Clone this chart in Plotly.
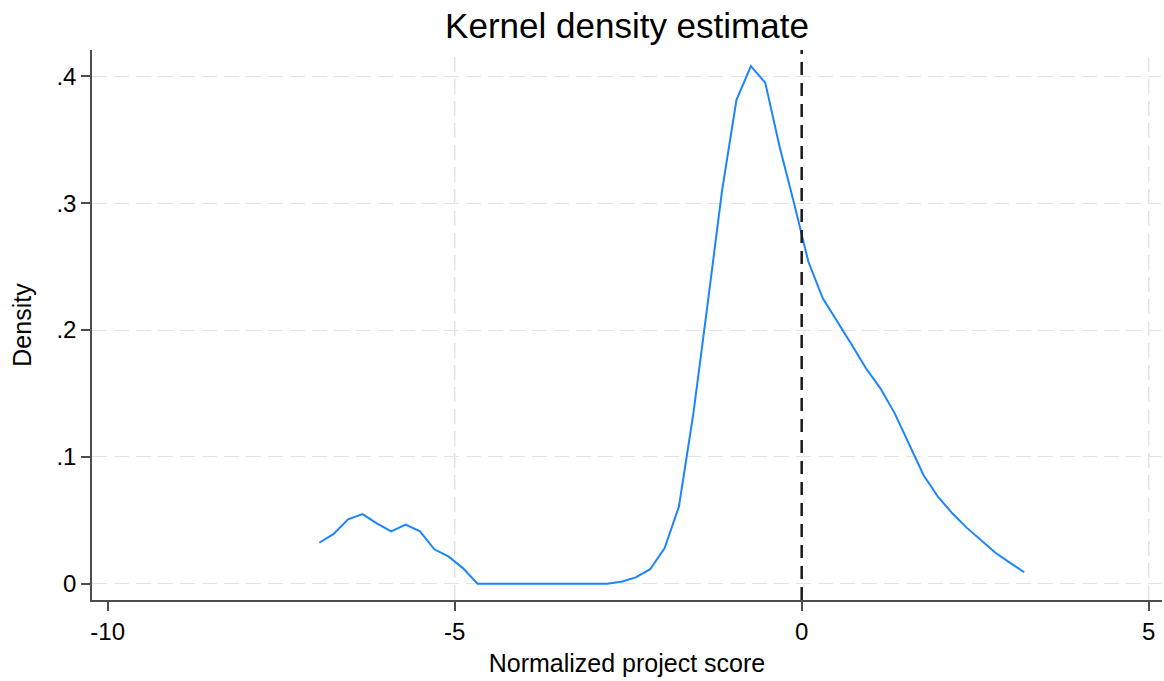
import plotly.graph_objects as go

# Kernel density estimate evaluation points
score = [-6.951, -6.744, -6.536, -6.329, -6.122, -5.915, -5.707, -5.500, -5.293, -5.086,
         -4.878, -4.671, -4.464, -4.256, -4.049, -3.842, -3.634, -3.427, -3.220, -3.013,
         -2.805, -2.598, -2.391, -2.183, -1.976, -1.769, -1.561, -1.354, -1.147, -0.940,
         -0.732, -0.525, -0.318, -0.110, 0.097, 0.304, 0.512, 0.719, 0.926, 1.134,
         1.341, 1.548, 1.755, 1.963, 2.170, 2.377, 2.585, 2.792, 2.999, 3.206]
density = [0.0323, 0.0392, 0.0508, 0.0549, 0.0476, 0.0413, 0.0465, 0.0413, 0.0271, 0.0213,
           0.0121, 0.0000, 0.0000, 0.0000, 0.0000, 0.0000, 0.0000, 0.0000, 0.0000, 0.0000,
           0.0000, 0.0016, 0.0050, 0.0114, 0.0279, 0.0607, 0.1340, 0.2210, 0.3100, 0.3813,
           0.4080, 0.3950, 0.3445, 0.3000, 0.2538, 0.2250, 0.2070, 0.1885, 0.1698, 0.1540,
           0.1343, 0.1093, 0.0857, 0.0686, 0.0555, 0.0442, 0.0339, 0.0244, 0.0166, 0.0090]

x_ticks = [-10, -5, 0, 5]
x_tick_labels = ["-10", "-5", "0", "5"]
x_grid = [-5, 5]
y_ticks = [0, 0.1, 0.2, 0.3, 0.4]
y_tick_labels = ["0", ".1", ".2", ".3", ".4"]
ref_line_x = 0

FONT = "Liberation Sans, Arial, Helvetica, sans-serif"
AXIS_COLOR = "#4d4d4d"
GRID_COLOR = "#e3e3e3"

fig = go.Figure()

for gx in x_grid:
    fig.add_vline(x=gx, line=dict(color=GRID_COLOR, width=1.4, dash="15px,7px"), layer="below")

fig.add_trace(go.Scatter(
    x=score, y=density, mode="lines",
    line=dict(color="#1a85ff", width=2),
    showlegend=False, hoverinfo="x+y",
))

fig.add_vline(x=ref_line_x, line=dict(color="#1a1a1a", width=2.5, dash="13px,8px"))

fig.update_layout(
    width=1164, height=681,
    margin=dict(l=92, r=2, t=50, b=81, pad=0),
    paper_bgcolor="white", plot_bgcolor="white",
    font=dict(family=FONT, color="#000000", size=24),
    title=dict(text="Kernel density estimate", x=0.5, xref="paper",
               y=1 - 26 / 681, yref="container", yanchor="middle",
               font=dict(family=FONT, size=35, color="#000000")),
    xaxis=dict(
        range=[-10.226, 5.192],
        tickmode="array", tickvals=x_ticks, ticktext=x_tick_labels,
        ticks="outside", ticklen=9, tickwidth=1.5, tickcolor=AXIS_COLOR,
        showline=True, linecolor=AXIS_COLOR, linewidth=1.5,
        showgrid=False, zeroline=False,
        tickfont=dict(size=24, family=FONT, color="#000000"),
        title=dict(text="Normalized project score", standoff=11,
                   font=dict(size=25, family=FONT, color="#000000")),
    ),
    yaxis=dict(
        range=[-0.01285, 0.42073],
        tickmode="array", tickvals=y_ticks, ticktext=y_tick_labels,
        ticks="outside", ticklen=9, tickwidth=1.5, tickcolor=AXIS_COLOR,
        showline=True, linecolor=AXIS_COLOR, linewidth=1.5,
        showgrid=True, gridcolor=GRID_COLOR, gridwidth=1.4, griddash="15px,7px",
        zeroline=False,
        tickfont=dict(size=24, family=FONT, color="#000000"),
        title=dict(text="Density", standoff=18,
                   font=dict(size=25, family=FONT, color="#000000")),
    ),
)

fig.write_html("out.html")
